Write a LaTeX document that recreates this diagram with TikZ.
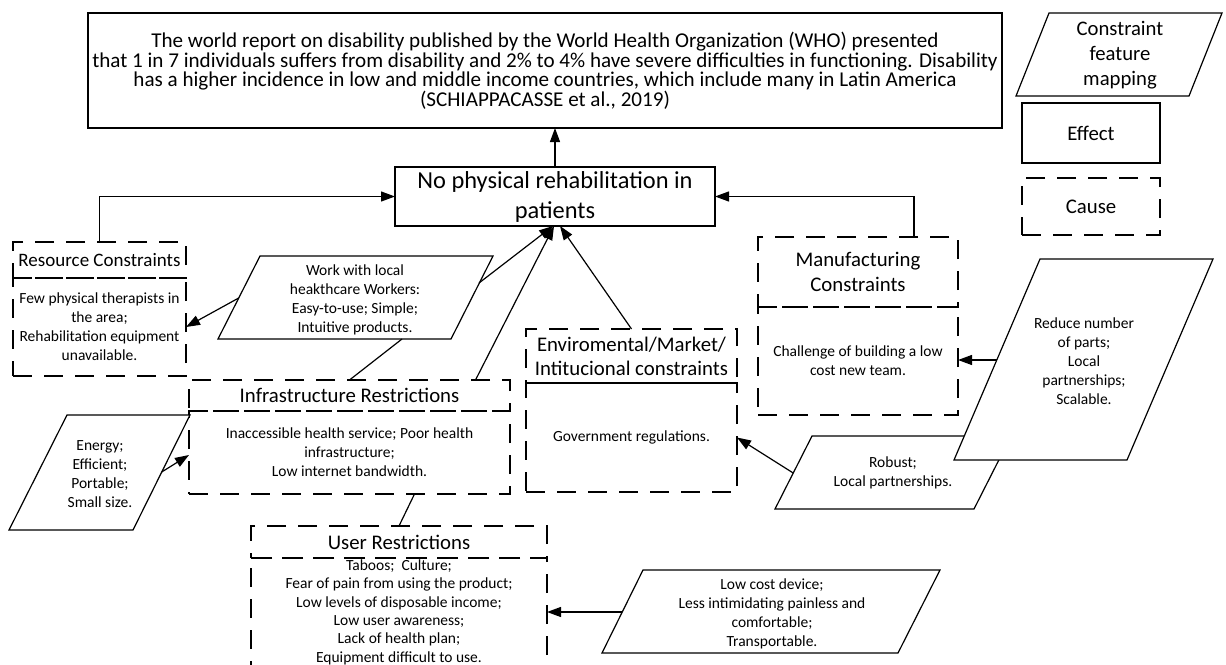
\documentclass[tikz,border=0pt]{standalone}
\usepackage{fontspec}
\setmainfont{Carlito}
\usetikzlibrary{arrows.meta,calc}
\begin{document}
\begin{tikzpicture}[x=1pt,y=-1pt,
  line width=1.2pt,
  effbox/.style={draw, fill=white, inner sep=0pt, outer sep=0pt, align=center},
  causebox/.style={draw, dash pattern=on 19pt off 12pt, inner sep=0pt, outer sep=0pt, align=center},
  para/.style={draw, fill=white, line join=miter},
  arr/.style={-{Triangle[length=14pt,width=10pt]}},
  hdr/.style={font=\fontsize{20.8}{25}\selectfont},
  bdy/.style={font=\fontsize{15.5}{19}\selectfont},
  txt/.style={inner sep=0pt, align=center},
]
\useasboundingbox (0,0) rectangle (1226,664);

% top effect box
\node[effbox, minimum width=914pt, minimum height=115pt, font=\fontsize{21.1}{19.5}\selectfont] (top) at (545,70.5)
 {The world report on disability published by the World Health Organization (WHO) presented\\
  that 1 in 7 individuals suffers from disability and 2\% to 4\% have severe difficulties in functioning. Disability\\
  has a higher incidence in low and middle income countries, which include many in Latin America\\
  (SCHIAPPACASSE et al., 2019)};

% central effect
\node[effbox, minimum width=320pt, minimum height=59pt, font=\fontsize{24.4}{30}\selectfont] (np) at (555,196.5)
 {No physical rehabilitation in\\patients};

% legend
\draw[para] (1049,13) -- (1222,13) -- (1189,96) -- (1016,96) -- cycle;
\node[txt, font=\fontsize{20.7}{25}\selectfont] (lpar) at (1120,55) {Constraint\\feature\\mapping};
\node[effbox, minimum width=138pt, minimum height=60pt, hdr] (leff) at (1091,133) {Effect};
\node[causebox, minimum width=138pt, minimum height=57pt, hdr] (lcause) at (1091,206.5) {Cause};

% resource constraints
\node[causebox, minimum width=173pt, minimum height=36pt, font=\fontsize{19}{24}\selectfont] (rh) at (99.5,260) {Resource Constraints};
\node[causebox, minimum width=173pt, minimum height=98pt, bdy] (rb) at (99.5,327)
 {Few physical therapists in\\the area;\\Rehabilitation equipment\\unavailable.};

% infrastructure
\node[causebox, minimum width=321pt, minimum height=31pt, hdr] (ih) at (349.5,395.5) {Infrastructure Restrictions};
\node[causebox, minimum width=321pt, minimum height=83pt, bdy] (ib) at (349.5,452.5)
 {Inaccessible health service; Poor health\\infrastructure;\\Low internet bandwidth.};

% environmental
\node[causebox, minimum width=211pt, minimum height=54pt, hdr, font=\fontsize{20.8}{24}\selectfont] (eh) at (631.5,356)
 {Enviromental/Market/\\Intitucional constraints};
\node[causebox, minimum width=211pt, minimum height=109pt, bdy] (eb) at (631.5,437.5) {Government regulations.};

% manufacturing
\node[causebox, minimum width=200pt, minimum height=70pt, hdr] (mh) at (858,272) {Manufacturing\\Constraints};
\node[causebox, minimum width=200pt, minimum height=108pt, bdy] (mb) at (858,361)
 {Challenge of building a low\\cost new team.};

% user
\node[causebox, minimum width=296pt, minimum height=32pt, hdr] (uh) at (399,542) {User Restrictions};
\node[causebox, minimum width=296pt, minimum height=142pt] (ub) at (399,629) {};
\node[txt, font=\fontsize{15.5}{18.4}\selectfont, anchor=north] (ut) at (399,559)
 {Taboos;\ \ Culture;\\Fear of pain from using the product;\\Low levels of disposable income;\\Low user awareness;\\Lack of health plan;\\Equipment difficult to use.};

% feature mapping parallelograms
\draw[para] (260,256) -- (493,256) -- (451,339) -- (218,339) -- cycle;
\node[txt, bdy] (wk) at (355,300) {Work with local\\heakthcare Workers:\\Easy-to-use; Simple;\\Intuitive products.};

\draw[para] (67,415) -- (190,415) -- (133,530) -- (9,530) -- cycle;
\node[txt, bdy] (en) at (100,474) {Energy;\\Efficient;\\Portable;\\Small size.};

\draw[para] (812,436) -- (1011,436) -- (974,509) -- (775,509) -- cycle;
\node[txt, bdy] (rob) at (893,473) {Robust;\\Local partnerships.};

\draw[para] (1040,259) -- (1213,259) -- (1127,460) -- (954,460) -- cycle;
\node[txt, bdy] (red) at (1084,361) {Reduce number\\of parts;\\Local\\partnerships;\\Scalable.};

\draw[para] (643,570) -- (940,570) -- (898,653) -- (602,653) -- cycle;
\node[txt, bdy] (lc) at (772,614) {Low cost device;\\Less intimidating painless and\\comfortable;\\Transportable.};

% connector end points on parallelogram edges
\coordinate (wkL) at (238.7,298);
\coordinate (wkR) at (479,283);
\coordinate (wkB) at (402,339);
\coordinate (enR) at (161.7,472);
\coordinate (redL) at (996.8,360);
\coordinate (robL) at (793.2,473);
\coordinate (lcL) at (622.3,612);

% connectors
\draw[arr] (np.north) -- (np.north |- top.south);
\draw[arr] (rh.north) |- (np.west);
\draw[arr] ([xshift=56pt]mh.north) |- (np.east);
\draw[arr] (wkL) -- (rb.east);
\draw[arr] (wkR) -- ([xshift=-2pt]np.south);
\draw (wkB) -- (ih.north);
\draw[arr] ([xshift=126pt]ih.north) -- ([xshift=-1pt]np.south);
\draw[arr] (eh.north) -- ([xshift=5pt]np.south);
\draw[arr] (enR) -- ([yshift=-2.5pt]ib.west);
\draw ([xshift=65pt]ib.south) -- (uh.north);
\draw[arr] (redL) -- (redL -| mb.east);
\draw[arr] (robL) -- (eb.east);
\draw[arr] (lcL) -- (lcL -| ub.east);
\end{tikzpicture}
\end{document}
